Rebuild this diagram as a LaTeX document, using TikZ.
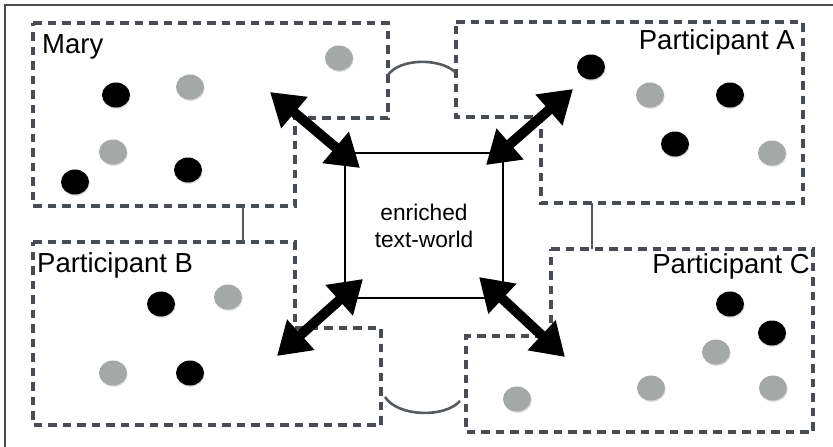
\documentclass[tikz,border=0pt]{standalone}
\usepackage{fontspec}
\setmainfont{Liberation Sans}
\usetikzlibrary{arrows.meta,shadows}
\definecolor{dashgray}{HTML}{474D53}
\definecolor{chipgray}{HTML}{A4A8A6}
\definecolor{pencil}{HTML}{555A5E}
\def\chip[#1](#2){\fill[#1] (#2) ellipse [x radius=14pt, y radius=12.5pt];}

\tikzset{
	framebox/.style={draw=dashgray, line width=3.2pt, dash pattern=on 8.5pt off 6pt},
	namelabel/.style={inner sep=0pt, font=\fontsize{27.5}{30}\selectfont},
	worldbox/.style={draw, line width=2.2pt, minimum width=158pt, minimum height=145pt, align=center, font=\fontsize{22.7}{27}\selectfont},
	bigarrow/.style={line width=10pt, {Triangle[length=32pt,width=39pt]}-{Triangle[length=32pt,width=39pt]}},
	pencilline/.style={draw=pencil, line width=2.6pt},
	blackchip/.style={fill=black, drop shadow={shadow xshift=0.6pt, shadow yshift=-1.3pt, opacity=0.3}},
	graychip/.style={fill=chipgray, drop shadow={shadow xshift=0.6pt, shadow yshift=-1.3pt, opacity=0.3}}
}

\begin{document}
\begin{tikzpicture}[x=1pt, y=-1pt]
		%%%%% START %%%%%
		\useasboundingbox (0,0) rectangle (833,447);
		
		\draw[line width=1.6pt, color=black!70] (833,5) -- (5,5) -- (5,447);
		
		% the four dashed worlds
		\draw[framebox] (33,23) -- (388,23) -- (388,118) -- (295,118) -- (295,206) -- (33,206) -- cycle;
		\draw[framebox] (456,22) -- (803,22) -- (803,203) -- (541,203) -- (541,117) -- (456,117) -- cycle;
		\draw[framebox] (33,242) -- (295,242) -- (295,328) -- (381,328) -- (381,425) -- (33,425) -- cycle;
		\draw[framebox] (551,249) -- (813,249) -- (813,432) -- (466,432) -- (466,336) -- (551,336) -- cycle;
		
		\node[namelabel, anchor=base west] (mary) at (42,53) {Mary};
		\node[namelabel, anchor=base east] (partA) at (795,49) {Participant A};
		\node[namelabel, anchor=base west] (partB) at (37,272) {Participant B};
		\node[namelabel, anchor=base east] (partC) at (810,273) {Participant C};
		
		% links between the worlds
		\coordinate (maryR) at (388,75);
		\coordinate (partAL) at (455,72);
		\coordinate (partBR) at (385,397);
		\coordinate (partCL) at (460,401);
		\coordinate (maryfoot) at (243,206);
		\coordinate (partBtop) at (243,242);
		\coordinate (partAfoot) at (592,203);
		\coordinate (partCtop) at (592,249);
		\draw[pencilline] (maryR) .. controls (400,58) and (440,58) .. (partAL);
		\draw[pencilline] (partBR) .. controls (398,417) and (445,418) .. (partCL);
		\draw[pencilline] (maryfoot) -- (partBtop);
		\draw[pencilline] (partAfoot) -- (partCtop);
		
		% counters
		\chip[graychip](339,58)
		\chip[blackchip](116,95)
		\chip[graychip](190,87)
		\chip[graychip](113,152)
		\chip[blackchip](188,170)
		\chip[blackchip](75,182)
		
		\chip[blackchip](591,67)
		\chip[graychip](650,95)
		\chip[blackchip](730,95)
		\chip[blackchip](675,144)
		\chip[graychip](772,153)
		
		\chip[blackchip](161,304)
		\chip[graychip](228,297)
		\chip[graychip](113,373)
		\chip[blackchip](190,373)
		
		\chip[blackchip](730,304)
		\chip[blackchip](772,333)
		\chip[graychip](716,352)
		\chip[graychip](651,388)
		\chip[graychip](773,388)
		\chip[graychip](517,399)
		
		% shared world in the middle
		\node[worldbox] (world) at (424,225.5) {enriched\\text-world};
		
		\coordinate (maryend) at (270,92);
		\coordinate (worldNW) at (360,168);
		\coordinate (partAend) at (573,89);
		\coordinate (worldNE) at (486,165);
		\coordinate (partBend) at (277,356);
		\coordinate (worldSW) at (363,279);
		\coordinate (partCend) at (565,357);
		\coordinate (worldSE) at (479,277);
		\draw[bigarrow] (maryend) -- (worldNW);
		\draw[bigarrow] (partAend) -- (worldNE);
		\draw[bigarrow] (partBend) -- (worldSW);
		\draw[bigarrow] (partCend) -- (worldSE);
		
		%%%%% END %%%%%
\end{tikzpicture}
\end{document}
